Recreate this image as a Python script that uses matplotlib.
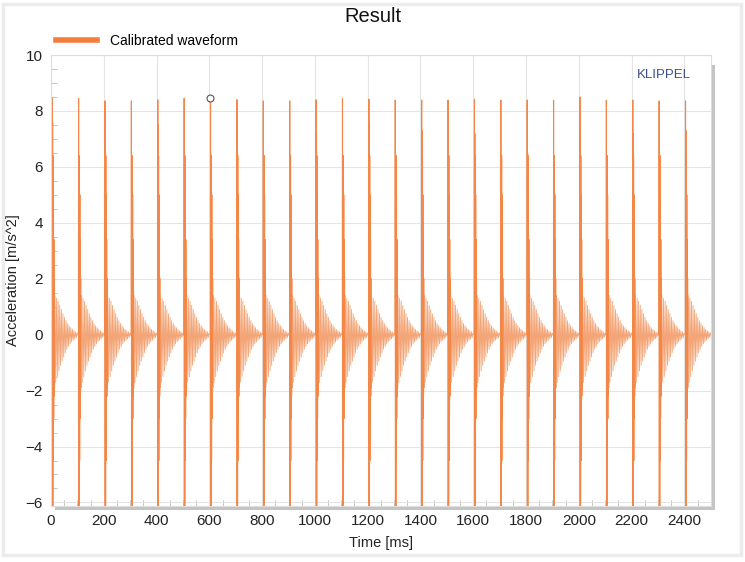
import numpy as np
import matplotlib.pyplot as plt
from matplotlib.patches import Rectangle
from matplotlib.lines import Line2D

plt.rcParams['font.family'] = ['Liberation Sans', 'DejaVu Sans']

# pulse onsets [ms], peak values and second spike values [m/s^2]
pulse_times = [4, 104, 204, 304, 404, 504, 604, 704, 804, 904, 1004, 1104, 1204,
               1304, 1404, 1504, 1604, 1704, 1804, 1904, 2004, 2104, 2204, 2304, 2404]
pulse_peaks = [8.45, 8.45, 8.36, 8.36, 8.40, 8.45, 8.45, 8.40, 8.36, 8.36, 8.40, 8.45, 8.42,
               8.39, 8.39, 8.39, 8.42, 8.39, 8.39, 8.39, 8.50, 8.39, 8.39, 8.36, 8.36]
second_peaks = [7.6, 6.2, 7.6, 6.3, 7.5, 6.2, 6.4, 7.2, 6.4, 6.3, 7.2, 6.2, 7.6,
                6.4, 7.3, 6.3, 7.2, 6.3, 6.5, 6.4, 7.3, 6.4, 7.2, 6.4, 7.3]

# one ringing cycle: offset after onset [ms] and value
ring_offsets = [0.0, 0.5, 1.2, 2.0, 2.8, 3.6, 4.4, 5.2, 6.0, 6.8, 7.6, 8.6, 9.8, 11.0,
                14, 17, 20, 23, 26, 29, 32, 35, 38, 41, 44, 47, 50, 53, 56, 59,
                62, 65, 68, 71, 74, 77, 80, 83, 86, 89, 92, 95, 98]
ring_values = [0.0, 8.45, -6.6, 7.6, -6.4, 6.4, -4.5, 5.0, -3.0, 3.4, -2.2, 2.0, -1.9, 1.4,
               -1.7, 1.3, -1.5, 1.2, -1.3, 1.05, -1.1, 0.9, -0.95, 0.75, -0.8, 0.62, -0.65,
               0.5, -0.52, 0.4, -0.42, 0.32, -0.33, 0.25, -0.26, 0.19, -0.2, 0.14, -0.15,
               0.1, -0.1, 0.06, 0.0]
n_spike = 12

t_all, v_all = [], []
spikes = []
for t0, pk, sp in zip(pulse_times, pulse_peaks, second_peaks):
    vals = list(ring_values)
    vals[1] = pk
    vals[3] = sp
    ts = [t0 + o for o in ring_offsets]
    t_all += ts
    v_all += vals
    spikes.append((ts[:n_spike], vals[:n_spike]))

fig = plt.figure(figsize=(7.45, 5.62), dpi=100)
fig.patches.append(Rectangle((0.004, 0.012), 0.99, 0.98, transform=fig.transFigure,
                             fill=False, edgecolor='#ececec', linewidth=2.5))

ax = fig.add_axes([0.0685, 0.1, 0.8855, 0.802])
# drop shadow of the plot area
sh = 4 / 745, 4 / 562
fig.patches.append(Rectangle((0.0685 + sh[0], 0.1 - sh[1]), 0.8855, 0.802 - 0.01,
                             transform=fig.transFigure, facecolor='#c4c4c4',
                             edgecolor='none', zorder=0))
ax.set_zorder(1)

ax.plot(t_all, v_all, color='#F3A577', linewidth=0.6)
for ts, vs in spikes:
    ax.plot(ts, vs, color='#F4823F', linewidth=0.8, alpha=0.85)

ax.plot([604], [8.47], marker='o', markersize=5, markerfacecolor='white',
        markeredgecolor='#555555', markeredgewidth=0.8, linestyle='none')

ax.set_xlim(0, 2500)
ax.set_ylim(-6.12, 10)
ax.set_xticks(np.arange(0, 2401, 200))
ax.set_yticks(np.arange(-6, 11, 2))
ax.set_xticks(np.arange(50, 2500, 50), minor=True)
ax.set_yticks(np.arange(-6, 10.1, 0.5), minor=True)
ax.grid(True, which='major', color='#e4e4e4', linewidth=0.8)
ax.set_axisbelow(True)
ax.tick_params(which='major', length=0, labelsize=11, colors='#222222', pad=6)
ax.tick_params(which='minor', direction='in', length=4, color='#bbbbbb')
for s in ax.spines.values():
    s.set_color('#dddddd')
    s.set_linewidth(0.8)

ax.set_xlabel('Time [ms]', fontsize=10.5, color='#222222', labelpad=6)
ax.set_ylabel('Acceleration [m/s^2]', fontsize=10.5, color='#222222', labelpad=4)
fig.suptitle('Result', fontsize=14.5, y=0.988, color='#111111')
ax.text(0.97, 0.955, 'KLIPPEL', transform=ax.transAxes, ha='right', va='center',
        fontsize=9.5, color='#3c4f8c')

leg_handle = Line2D([], [], color='#F47C3C', linewidth=4)
fig.legend([leg_handle], ['Calibrated waveform'], loc='center left',
           bbox_to_anchor=(0.058, 0.927), frameon=False, fontsize=10,
           handlelength=3.0, handletextpad=0.9)

fig.savefig('out.png', dpi=100)
